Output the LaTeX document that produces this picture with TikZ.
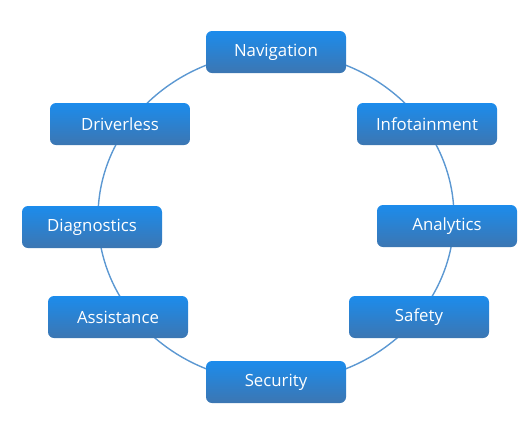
\documentclass[tikz,border=0pt]{standalone}
\usepackage{fontspec}
\setmainfont{Open Sans}
\usepackage{xcolor}
\usepackage{tikz}
\usetikzlibrary{positioning,calc}
\definecolor{myTopBlue}{RGB}{28,140,236}
\definecolor{myBotBlue}{RGB}{60,118,178}
\definecolor{myRing}{RGB}{92,152,210}

\begin{document}
\begin{tikzpicture}[x=0.75pt,y=-0.75pt]
\tikzstyle{pill}=[rounded corners=4.5pt, top color=myTopBlue, bottom color=myBotBlue, draw=none, text=white, minimum width=105pt, minimum height=31.5pt, inner sep=0pt, font=\fontsize{12.6}{14}\selectfont]
\tikzstyle{ring}=[draw=myRing, line width=1.05pt]
\useasboundingbox (0,0) rectangle (526,430);
% ring behind the boxes
\coordinate (hub) at (276,217);
\draw[ring] (hub) ellipse [x radius=178, y radius=165];
% boxes on the ring
\node[pill] (nav) at (276,52) {Navigation};
\node[pill] (info) at (427,124) {Infotainment};
\node[pill] (ana) at (447,226) {Analytics};
\node[pill] (safe) at (419,317) {Safety};
\node[pill] (sec) at (276,382) {Security};
\node[pill] (assist) at (118,317) {Assistance};
\node[pill] (diag) at (92,227) {Diagnostics};
\node[pill] (drive) at (120,124) {Driverless};
\end{tikzpicture}
\end{document}
